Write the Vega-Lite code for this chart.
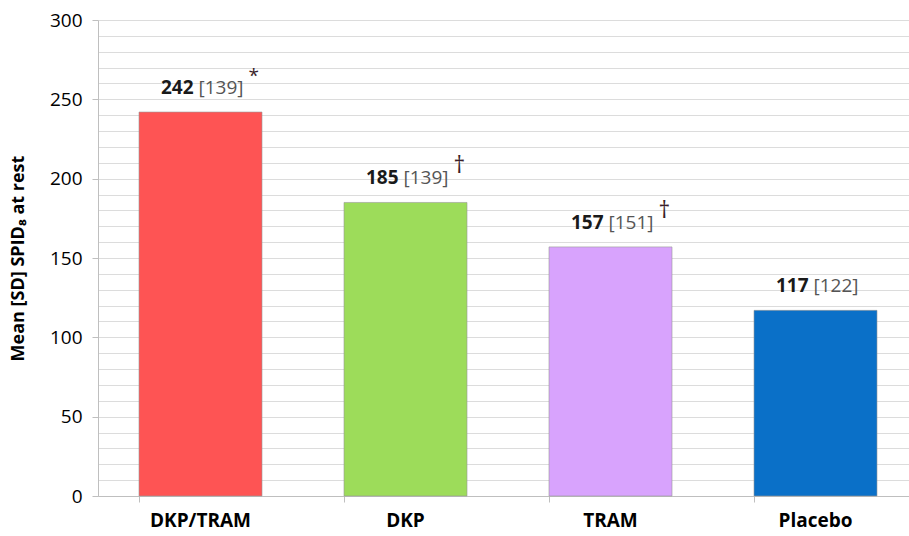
{
  "$schema": "https://vega.github.io/schema/vega-lite/v6.json",
  "autosize": "none",
  "padding": {"left": 98, "top": 20, "right": 0, "bottom": 40},
  "width": 820,
  "height": 476,
  "background": "white",
  "config": {
    "font": "Open Sans",
    "view": {"stroke": null}
  },
  "data": {
    "values": [
      {"group": "DKP/TRAM", "mean": 242, "sd": "[139]", "sig": "*"},
      {"group": "DKP", "mean": 185, "sd": "[139]", "sig": "†"},
      {"group": "TRAM", "mean": 157, "sd": "[151]", "sig": "†"},
      {"group": "Placebo", "mean": 117, "sd": "[122]", "sig": ""}
    ]
  },
  "encoding": {
    "x": {
      "field": "group",
      "type": "nominal",
      "sort": null,
      "scale": {"paddingInner": 0.4, "paddingOuter": 0.2},
      "axis": {
        "title": null,
        "labelAngle": 0,
        "labelFont": "Open Sans",
        "labelFontSize": 19,
        "labelFontWeight": "bold",
        "labelColor": "#000000",
        "labelPadding": 9,
        "bandPosition": 0,
        "tickSize": 6,
        "tickColor": "#bfbfbf",
        "domainColor": "#bfbfbf",
        "grid": false
      }
    },
    "y": {
      "field": "mean",
      "type": "quantitative",
      "scale": {"domain": [0, 300], "nice": false},
      "axis": {
        "title": "Mean [SD] SPID₈ at rest",
        "titleFont": "Open Sans",
        "titleFontSize": 18,
        "titleFontWeight": "bold",
        "titleColor": "#000000",
        "titlePadding": 22,
        "values": [0,10,20,30,40,50,60,70,80,90,100,110,120,130,140,150,160,170,180,190,200,210,220,230,240,250,260,270,280,290,300],
        "labelExpr": "datum.value % 50 === 0 ? datum.label : ''",
        "labelFont": "Open Sans",
        "labelFontSize": 19,
        "labelColor": "#000000",
        "labelPadding": 10,
        "tickSize": 6,
        "tickColor": "#bfbfbf",
        "tickOpacity": {"condition": {"test": "datum.value % 50 === 0", "value": 1}, "value": 0},
        "domainColor": "#bfbfbf",
        "grid": true,
        "gridColor": "#dcdcdc",
        "gridWidth": 1
      }
    }
  },
  "layer": [
    {
      "mark": {"type": "bar", "stroke": "#999999", "strokeWidth": 0.6},
      "encoding": {
        "color": {
          "field": "group",
          "type": "nominal",
          "sort": null,
          "scale": {"domain": ["DKP/TRAM", "DKP", "TRAM", "Placebo"], "range": ["#fe5454", "#9ddc5a", "#d8a3fd", "#0a70c8"]},
          "legend": null
        }
      }
    },
    {
      "mark": {"type": "text", "align": "right", "baseline": "middle", "dx": -7, "dy": -24, "fontSize": 19, "fontWeight": "bold", "color": "#1a1a1a"},
      "encoding": {"text": {"field": "mean", "type": "quantitative"}}
    },
    {
      "mark": {"type": "text", "align": "left", "baseline": "middle", "dx": -2, "dy": -24, "fontSize": 19, "color": "#555555"},
      "encoding": {"text": {"field": "sd", "type": "nominal"}}
    },
    {
      "mark": {"type": "text", "align": "left", "baseline": "middle", "dx": 48, "dy": -36, "color": "#3a1f2a"},
      "encoding": {
        "text": {"field": "sig", "type": "nominal"},
        "size": {"condition": {"test": "datum.sig === '*'", "value": 19}, "value": 23}
      }
    }
  ]
}
